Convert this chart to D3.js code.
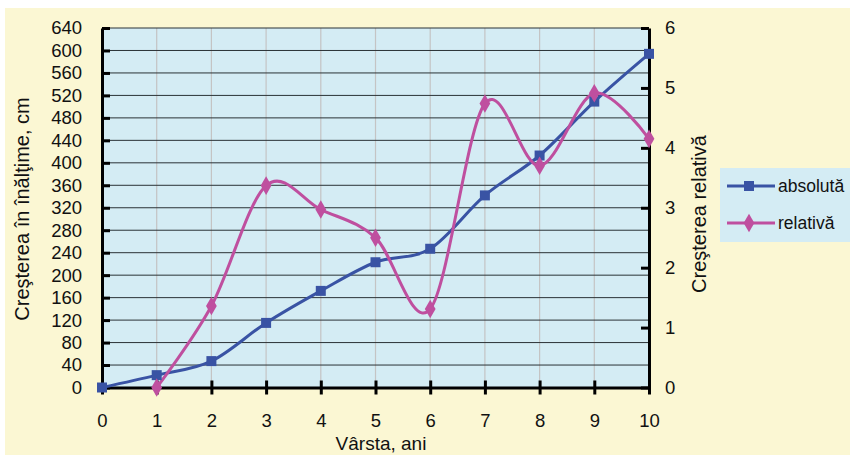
<!DOCTYPE html>
<html>
<head>
<meta charset="utf-8">
<script src="https://cdn.jsdelivr.net/npm/d3@7/dist/d3.min.js"></script>
<style>
  html, body { margin: 0; padding: 0; background: #ffffff; }
  svg { display: block; font-family: "Liberation Sans", Arial, sans-serif; }
</style>
</head>
<body>
<svg id="chart" width="850" height="455"></svg>
<script>
// Age in years (x axis)
const ages = [0, 1, 2, 3, 4, 5, 6, 7, 8, 9, 10];
// Absolute growth, cm (left axis)
const absoluteGrowth = [0, 22, 47, 115, 172, 223, 247, 342, 413, 509, 594];
// Relative growth (right axis); no value at age 0
const relativeAges = [1, 2, 3, 4, 5, 6, 7, 8, 9, 10];
const relativeGrowth = [0, 1.36, 3.37, 2.97, 2.50, 1.31, 4.74, 3.70, 4.91, 4.15];
// Tick labels
const leftTicks = [0, 40, 80, 120, 160, 200, 240, 280, 320, 360, 400, 440, 480, 520, 560, 600, 640];
const rightTicks = [0, 1, 2, 3, 4, 5, 6];
const seriesNames = ["absolută", "relativă"];

const colors = { abs: "#3953a4", rel: "#bf4f9f", plot: "#d4ecf4", page: "#fbf7d3" };

const svg = d3.select("#chart");
const plot = { left: 102, right: 649, top: 28, bottom: 387.5 };

// Page background (cream panel under a thin white strip)
svg.append("rect").attr("x", 5).attr("y", 8).attr("width", 845).attr("height", 447).attr("fill", colors.page);

const x = d3.scaleLinear().domain([0, 10]).range([plot.left, plot.right]);
const yL = d3.scaleLinear().domain([0, 640]).range([plot.bottom, plot.top]);
const yR = d3.scaleLinear().domain([0, 6]).range([plot.bottom, plot.top]);

// Plot area
svg.append("rect")
  .attr("x", plot.left).attr("y", plot.top)
  .attr("width", plot.right - plot.left).attr("height", plot.bottom - plot.top)
  .attr("fill", colors.plot);

// Vertical grid
svg.append("g").selectAll("line").data(ages.slice(1, -1)).join("line")
  .attr("x1", d => x(d)).attr("x2", d => x(d))
  .attr("y1", plot.top).attr("y2", plot.bottom)
  .attr("stroke", "#c4c4c4").attr("stroke-width", 1.2);

// Horizontal grid
svg.append("g").selectAll("line").data(leftTicks.slice(1)).join("line")
  .attr("x1", plot.left).attr("x2", plot.right)
  .attr("y1", d => yL(d)).attr("y2", d => yL(d))
  .attr("stroke", "#2a3236").attr("stroke-width", 1);

// Axes
const tickFont = "18.5px";
const axisL = d3.axisLeft(yL).tickValues(leftTicks).tickSizeInner(-8).tickSizeOuter(0).tickPadding(20);
const axisR = d3.axisRight(yR).tickValues(rightTicks).tickFormat(d3.format("d"))
  .tickSizeInner(-8).tickSizeOuter(0).tickPadding(16);
const axisB = d3.axisBottom(x).tickValues(ages).tickSizeInner(8).tickSizeOuter(0).tickPadding(18);

function styleAxis(g) {
  g.select(".domain").attr("stroke", "#000").attr("stroke-width", 3);
  g.selectAll(".tick line").attr("stroke", "#000").attr("stroke-width", 3);
  g.selectAll(".tick text").attr("fill", "#111").style("font-size", tickFont)
    .style("font-family", '"Liberation Sans", Arial, sans-serif');
}

const gB = svg.append("g").attr("transform", `translate(0,${plot.bottom})`).call(axisB).call(styleAxis);
// x ticks cross the axis line
gB.selectAll(".tick line").attr("y1", -7).attr("y2", 7);
svg.append("g").attr("transform", `translate(${plot.left},0)`).call(axisL).call(styleAxis);
svg.append("g").attr("transform", `translate(${plot.right},0)`).call(axisR).call(styleAxis);

// Series lines (smoothed)
const curve = d3.curveCardinal.tension(0);
const absData = ages.map((a, i) => [a, absoluteGrowth[i]]);
const relData = relativeAges.map((a, i) => [a, relativeGrowth[i]]);

svg.append("path").datum(absData)
  .attr("fill", "none").attr("stroke", colors.abs).attr("stroke-width", 3)
  .attr("d", d3.line().x(d => x(d[0])).y(d => yL(d[1])).curve(curve));
svg.append("path").datum(relData)
  .attr("fill", "none").attr("stroke", colors.rel).attr("stroke-width", 3)
  .attr("d", d3.line().x(d => x(d[0])).y(d => yR(d[1])).curve(curve));

const square = d3.symbol().type(d3.symbolSquare).size(100);
const diamond = d3.symbol().type(d3.symbolDiamond).size(100);

svg.append("g").selectAll("path").data(absData).join("path")
  .attr("transform", d => `translate(${x(d[0])},${yL(d[1])})`)
  .attr("d", square).attr("fill", colors.abs);
svg.append("g").selectAll("path").data(relData).join("path")
  .attr("transform", d => `translate(${x(d[0])},${yR(d[1])})`)
  .attr("d", diamond).attr("fill", colors.rel);

// Axis titles
svg.append("text")
  .attr("transform", "translate(29,209) rotate(-90)")
  .attr("text-anchor", "middle").style("font-size", "20px").attr("fill", "#111")
  .text("Creşterea în înălţime, cm");
svg.append("text")
  .attr("transform", "translate(706,214) rotate(-90)")
  .attr("text-anchor", "middle").style("font-size", "20px").attr("fill", "#111")
  .text("Creşterea relativă");
svg.append("text")
  .attr("x", 381).attr("y", 450)
  .attr("text-anchor", "middle").style("font-size", "19px").attr("fill", "#111")
  .text("Vârsta, ani");

// Legend
const legend = svg.append("g");
legend.append("rect").attr("x", 720).attr("y", 168).attr("width", 130).attr("height", 74).attr("fill", colors.plot);
const legendRows = [
  { name: seriesNames[0], color: colors.abs, sym: square, y: 186 },
  { name: seriesNames[1], color: colors.rel, sym: diamond, y: 223 }
];
legendRows.forEach(r => {
  legend.append("line").attr("x1", 727).attr("x2", 775).attr("y1", r.y).attr("y2", r.y)
    .attr("stroke", r.color).attr("stroke-width", 3);
  legend.append("path").attr("transform", `translate(749,${r.y})`).attr("d", r.sym).attr("fill", r.color);
  legend.append("text").attr("x", 778).attr("y", r.y + 6).style("font-size", "17.5px").attr("fill", "#111").text(r.name);
});
</script>
</body>
</html>
